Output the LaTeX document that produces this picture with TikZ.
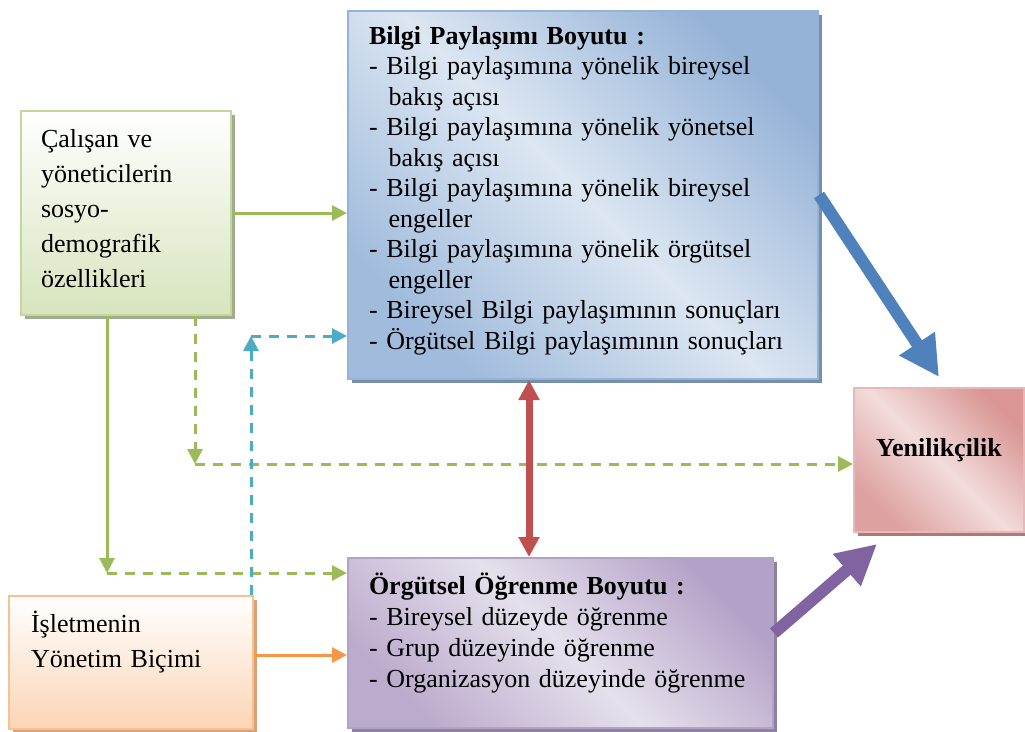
\documentclass[tikz,border=0pt]{standalone}
\usepackage{fontspec}
\setmainfont{Liberation Serif}
\usetikzlibrary{arrows.meta,shadows}
\definecolor{sgreen}{HTML}{9BBB59}
\definecolor{scyan}{HTML}{4BACC6}
\definecolor{sorange}{HTML}{F79646}
\definecolor{sred}{HTML}{C0504D}
\definecolor{sblue}{HTML}{4F81BD}
\definecolor{spurple}{HTML}{8064A2}
\definecolor{greenfill}{HTML}{D7E4BD}
\definecolor{greenedge}{HTML}{C3D69B}
\definecolor{orangefill}{HTML}{FBD5B5}
\definecolor{orangeedge}{HTML}{FAC090}
\definecolor{bluedark}{HTML}{95B3D7}
\definecolor{bluelight}{HTML}{DCE6F2}
\definecolor{pinkdark}{HTML}{D99694}
\definecolor{pinklight}{HTML}{F2DCDB}
\definecolor{pinkedge}{HTML}{E6B9B8}
\definecolor{lilacdark}{HTML}{B3A2C7}
\definecolor{lilaclight}{HTML}{E6E0EC}

\begin{document}
\begin{tikzpicture}[x=1pt,y=-1pt,
 box/.style={anchor=north west,inner sep=0pt,align=left,line width=2pt},
 sh/.style={drop shadow={shadow xshift=4pt,shadow yshift=-4pt,fill=#1,opacity=1}},
 socbox/.style={box,draw=greenedge,top color=white,bottom color=greenfill,sh=black!25!greenfill,
  minimum width=210pt,text width=170pt,text height=36pt,text depth=168pt,font=\fontsize{26}{35}\selectfont},
 orgbox/.style={box,draw=orangeedge,top color=white,bottom color=orangefill,sh=black!15!orangeedge,
  minimum width=244pt,text width=200pt,text height=36pt,text depth=97pt,font=\fontsize{26}{35}\selectfont},
 bilbox/.style={box,draw=bluedark,left color=bluedark,right color=bluedark!85!bluelight,middle color=bluelight,
  shading angle=-45,sh=black!20!bluedark,
  minimum width=470pt,text width=428pt,text height=33pt,text depth=335pt,font=\fontsize{26}{30.5}\selectfont},
 ogrbox/.style={box,draw=lilacdark,left color=lilacdark,right color=lilacdark!85!lilaclight,middle color=lilaclight,
  shading angle=-45,sh=black!20!lilacdark,
  minimum width=425pt,text width=383pt,text height=36pt,text depth=134pt,font=\fontsize{26}{31}\selectfont},
 yenbox/.style={box,align=center,draw=pinkedge,left color=pinkdark,right color=pinkdark!85!pinklight,middle color=pinklight,
  shading angle=-45,sh=black!20!pinkdark,
  minimum width=170pt,text height=68pt,text depth=76pt,font=\bfseries\fontsize{26}{30}\selectfont},
 gline/.style={sgreen,line width=3pt,-{Triangle[length=15pt,width=15pt]}},
 gdash/.style={gline,dash pattern=on 10pt off 8pt},
 cdash/.style={gdash,scyan},
 oline/.style={gline,sorange},
 fat/.style={line width=12pt,-{Triangle[length=40pt,width=40pt]}},
 both/.style={sred,line width=7pt,{Triangle[length=20pt,width=20pt]}-{Triangle[length=20pt,width=20pt]}}]
\useasboundingbox(0,0)rectangle(1025,731);
\node[socbox](soc)at(20,110){Çalışan ve\\yöneticilerin\\sosyo-\\demografik\\özellikleri};
\node[orgbox](org)at(8,595){İşletmenin\\Yönetim Biçimi};
\node[bilbox](bil)at(347,10){\textbf{Bilgi Paylaşımı Boyutu :}\\
 - Bilgi paylaşımına yönelik bireysel\\\hspace*{.75em}bakış açısı\\
 - Bilgi paylaşımına yönelik yönetsel\\\hspace*{.75em}bakış açısı\\
 - Bilgi paylaşımına yönelik bireysel\\\hspace*{.75em}engeller\\
 - Bilgi paylaşımına yönelik örgütsel\\\hspace*{.75em}engeller\\
 \mbox{- Bireysel Bilgi paylaşımının sonuçları}\\
 \mbox{- Örgütsel Bilgi paylaşımının sonuçları}};
\node[ogrbox](ogr)at(347,557){\textbf{Örgütsel Öğrenme Boyutu :}\\
 - Bireysel düzeyde öğrenme\\- Grup düzeyinde öğrenme\\\mbox{- Organizasyon düzeyinde öğrenme}};
\node[yenbox](yen)at(853,387){Yenilikçilik};
\coordinate(gA)at(107,573);\coordinate(gB)at(195,464);\coordinate(cA)at(251,336);
\coordinate(oA)at([yshift=7.5pt]org.east);\coordinate(rA)at(529,0);
\draw[gline](soc)--(soc-|bil.west);
\draw[gline](soc.south-|gA)--(gA);\draw[gdash](gA)--(gA-|ogr.west);
\draw[gdash](soc.south-|gB)--(gB);\draw[gdash](gB)--(gB-|yen.west);
\draw[cdash](org.north-|cA)--(cA);\draw[cdash](cA)--(cA-|bil.west);
\draw[oline](oA)--(oA-|ogr.west);
\draw[both](bil.south-|rA)--(ogr.north-|rA);
\draw[fat,sblue](bil.east)--([yshift=10pt]yen.north);
\draw[fat,spurple]([yshift=10pt]ogr.east)--([xshift=24pt,yshift=-11pt]yen.south west);
\end{tikzpicture}
\end{document}
